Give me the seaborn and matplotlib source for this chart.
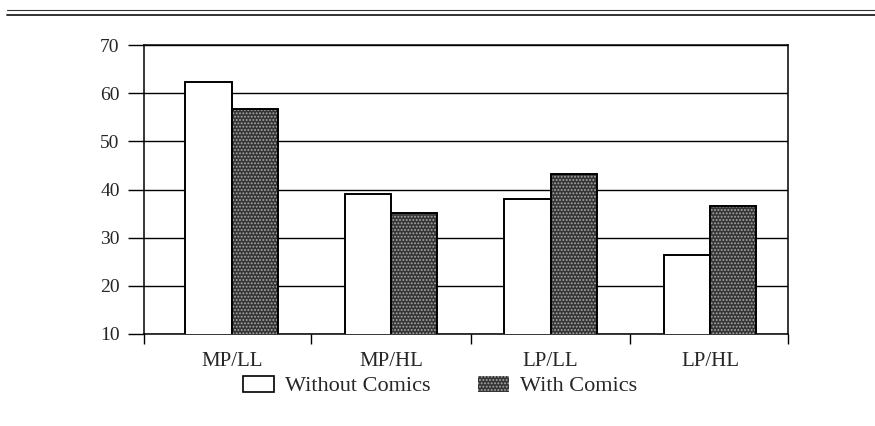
import matplotlib
matplotlib.use("Agg")
import matplotlib.pyplot as plt
import matplotlib.patches as mpatches
from matplotlib.lines import Line2D
import pandas as pd
import seaborn as sns

# data
categories = ["MP/LL", "MP/HL", "LP/LL", "LP/HL"]
groups     = ["Without Comics", "With Comics"]
without_comics = [62.3, 39.0, 38.0, 26.4]
with_comics    = [56.7, 35.1, 43.2, 36.6]
y_ticks = [10, 20, 30, 40, 50, 60, 70]

DARK  = "#353535"
SPECK = "#a8a8a8"

sns.set_theme(style="white")
plt.rcParams["font.family"] = ["Liberation Serif", "DejaVu Serif"]
plt.rcParams["hatch.linewidth"] = 0.9

df = pd.DataFrame({
    "group": categories * 2,
    "condition": [groups[0]] * len(categories) + [groups[1]] * len(categories),
    "score": without_comics + with_comics,
})

fig = plt.figure(figsize=(8.75, 4.26), dpi=100)
ax = fig.add_axes([0.1646, 0.216, 0.736, 0.678])

sns.barplot(data=df, x="group", y="score", hue="condition",
            order=categories, hue_order=groups,
            palette=["white", DARK], width=0.58, gap=0,
            edgecolor="black", linewidth=1.4, legend=False,
            errorbar=None, ax=ax, zorder=3)

# stippled look on the dark bars: light hatch, then a black outline on top
for bar in ax.containers[1]:
    bar.set_hatch(".....")
    bar.set_edgecolor(SPECK)
    bar.set_linewidth(0)
    ax.add_patch(mpatches.Rectangle((bar.get_x(), bar.get_y()), bar.get_width(),
                                    bar.get_height(), fill=False,
                                    edgecolor="black", linewidth=1.4, zorder=4))

ax.set_ylim(10, 70)
ax.set_yticks(y_ticks)
ax.set_xlim(-0.55, 3.49)
ax.set_xlabel("")
ax.set_ylabel("")

ax.yaxis.grid(True, color="black", linewidth=1.0)
ax.set_axisbelow(True)

for s in ax.spines.values():
    s.set_color("black")
    s.set_linewidth(1.1)

ax.tick_params(axis="y", which="major", direction="out", length=11.5,
               width=1.0, color="black", labelsize=14, pad=6, left=True)
ax.tick_params(axis="x", which="major", length=0, labelsize=15, pad=13)
ax.set_xticks([-0.55, 0.5, 1.5, 2.5, 3.49], minor=True)
ax.tick_params(axis="x", which="minor", direction="out", length=7.5,
               width=1.0, color="black", bottom=True)

handles = [
    mpatches.Patch(facecolor="white", edgecolor="black", linewidth=1.2),
    mpatches.Patch(facecolor=DARK, edgecolor=SPECK, hatch=".....", linewidth=0),
]
fig.legend(handles, groups, loc="center", bbox_to_anchor=(0.503, 0.094),
           ncol=2, frameon=False, fontsize=16, handlelength=1.4,
           handleheight=0.75, handletextpad=0.5, columnspacing=2.1)

# double rule at the top of the page
fig.add_artist(Line2D([0.008, 1.0], [1 - 10 / 426, 1 - 10 / 426],
                      color="#333333", linewidth=0.8))
fig.add_artist(Line2D([0.008, 1.0], [1 - 15 / 426, 1 - 15 / 426],
                      color="#222222", linewidth=1.3))

fig.savefig("out.png", dpi=100)
